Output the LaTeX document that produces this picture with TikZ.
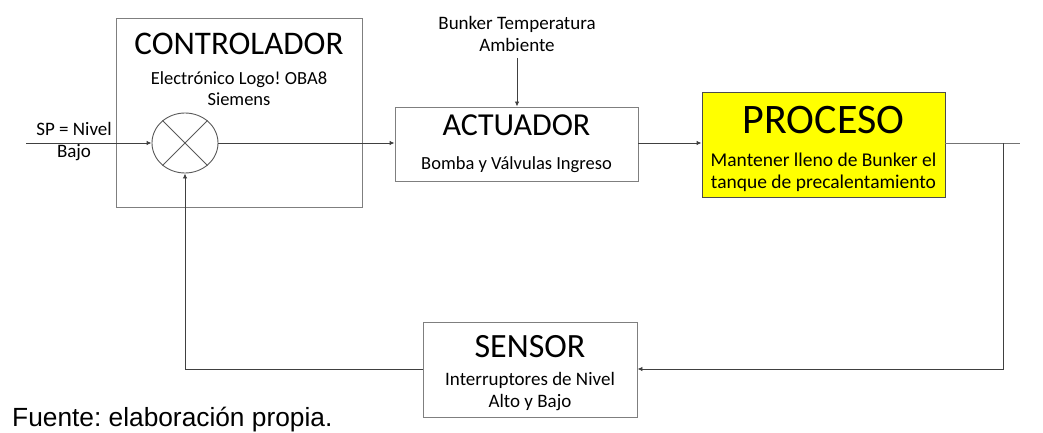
\documentclass[tikz,border=0pt]{standalone}
\usepackage{fontspec}
\setmainfont{Carlito}
\newfontfamily\arialf{Liberation Sans}
\usetikzlibrary{arrows.meta,shapes.geometric}
\definecolor{boxline}{HTML}{7F7F7F}
\definecolor{conline}{HTML}{404040}
\definecolor{procyellow}{HTML}{FFFF00}
\frenchspacing
\begin{document}
\begin{tikzpicture}[x=1pt,y=-1pt,
  box/.style={draw=boxline, line width=0.9pt, inner sep=0pt},
  ln/.style={draw=conline, line width=0.9pt},
  arr/.style={ln,-{Latex[length=5pt,width=4.5pt]}},
  txt/.style={inner sep=0pt, align=center},
  big/.style={txt, font=\fontsize{33}{33}\selectfont},
  small/.style={txt, font=\fontsize{19}{22}\selectfont}]
\useasboundingbox (0,0) rectangle (1043,433);
% boxes
\node[box, minimum width=246pt, minimum height=189pt] (ctrl) at (239,112.5) {};
\node[box, minimum width=243pt, minimum height=74pt] (act) at (516.5,144) {};
\node[box, fill=procyellow, draw=black!70, minimum width=243pt, minimum height=105pt] (proc) at (823.5,144.5) {};
\node[box, minimum width=214pt, minimum height=95pt] (sens) at (530,369.5) {};
% summing junction
\node[draw=black!65, line width=0.9pt, ellipse, minimum width=66pt, minimum height=60pt, inner sep=0pt] (sum) at (185,143) {};
\draw[draw=black!65, line width=0.8pt] (sum.45) -- (sum.225) (sum.135) -- (sum.315);
% texts
\node[big] (ctrlT) at (239,44) {CONTROLADOR};
\node[small, font=\fontsize{18.5}{21}\selectfont] (ctrlS) at (239,89) {Electrónico Logo! OBA8\\Siemens};
\node[small] (spT) at (74,142) {SP = Nivel\\Bajo};
\node[small] (distT) at (517,34) {Bunker Temperatura\\Ambiente};
\node[big, font=\fontsize{32}{32}\selectfont] (actT) at (516.5,125) {ACTUADOR};
\node[small, font=\fontsize{18.5}{22}\selectfont] (actS) at (516.5,165) {Bomba y Válvulas Ingreso};
\node[txt, font=\fontsize{42}{42}\selectfont] (procT) at (823.5,120) {PROCESO};
\node[txt, font=\fontsize{19.5}{22}\selectfont] (procS) at (823.5,172) {Mantener lleno de Bunker el\\tanque de precalentamiento};
\node[big, font=\fontsize{34}{34}\selectfont] (sensT) at (530,347) {SENSOR};
\node[small] (sensS) at (530,392) {Interruptores de Nivel\\Alto y Bajo};
\node[txt, anchor=base west, font=\arialf\fontsize{26.3}{26.3}\selectfont] (src) at (12,426) {Fuente: elaboración propia.};
% connectors
\coordinate (spin) at (26,143);
\draw[arr] (spin) -- (sum.west);
\draw[arr] (sum.east) -- (sum.east -| act.west);
\coordinate (dist) at (517,58);
\draw[arr] (dist) -- (dist |- act.north);
\draw[arr] (act.east |- sum.east) -- (sum.east -| proc.west);
\coordinate (outend) at (1020,143);
\draw[ln, draw=black!55] (proc.east |- outend) -- (outend);
\coordinate (fbtop) at (1003,143);
\coordinate (fbcorner) at (1003,369);
\draw[arr] (fbtop) -- (fbcorner) -- (fbcorner -| sens.east);
\draw[arr] (sens.west |- fbcorner) -- (fbcorner -| sum.south) -- (sum.south);
\end{tikzpicture}
\end{document}
